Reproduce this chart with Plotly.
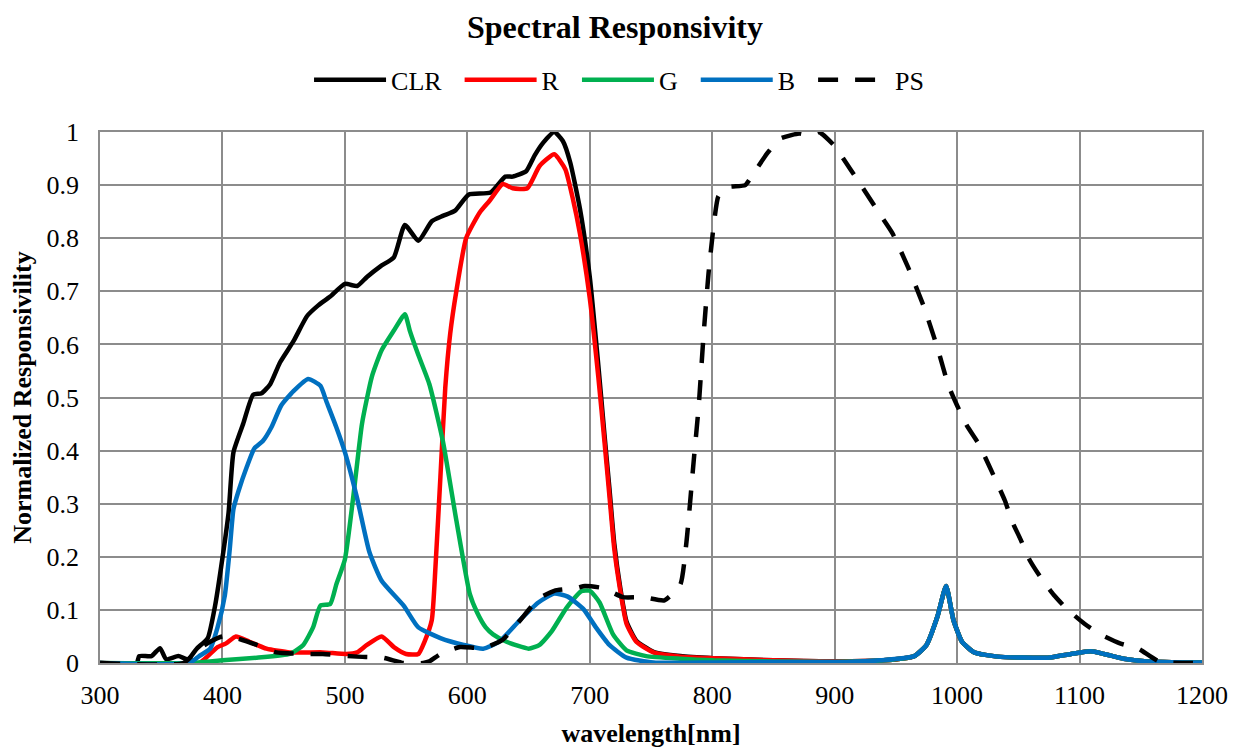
import plotly.graph_objects as go

# ---------------- data ----------------
clr_wl = [300, 330, 332, 342, 349, 354, 364, 372, 379, 388, 394, 399, 405, 409, 417, 425, 432, 439, 447, 458,
          469, 478, 488, 500, 510, 518, 529, 540, 549, 560, 571, 580, 590, 601, 619, 631, 637, 648, 655, 662,
          671, 678, 684, 692, 700, 707, 712, 716, 720, 725, 730, 738, 752, 774, 801, 850, 900, 940, 965, 975,
          984, 991, 997, 1004, 1014, 1033, 1074, 1093, 1109, 1120, 1136, 1155, 1200]
clr_val = [0, 0, 0.013, 0.013, 0.028, 0.007, 0.013, 0.007, 0.027, 0.047, 0.108, 0.182, 0.283, 0.397, 0.451, 0.505,
           0.508, 0.525, 0.566, 0.606, 0.653, 0.673, 0.69, 0.714, 0.71, 0.727, 0.747, 0.764, 0.825, 0.795, 0.832,
           0.842, 0.852, 0.882, 0.886, 0.916, 0.916, 0.926, 0.956, 0.98, 1.0, 0.983, 0.943, 0.855, 0.727, 0.56,
           0.43, 0.33, 0.225, 0.14, 0.078, 0.042, 0.021, 0.013, 0.009, 0.005, 0.003, 0.005, 0.013, 0.034, 0.088,
           0.145, 0.081, 0.04, 0.02, 0.012, 0.01, 0.017, 0.022, 0.017, 0.008, 0.003, 0.001]

r_wl = [300, 381, 388, 396, 403, 411, 422, 436, 455, 482, 501, 510, 518, 530, 540, 550, 560, 565, 571, 574, 578,
        582, 586, 591, 599, 610, 618, 629, 637, 649, 659, 671, 680, 686, 692, 700, 707, 712, 716, 720, 725, 730,
        738, 752, 774, 801, 850, 900, 940, 965, 975, 984, 991, 997, 1004, 1014, 1033, 1074, 1093, 1109, 1120,
        1136, 1155, 1200]
r_val = [0, 0, 0.013, 0.03, 0.037, 0.05, 0.04, 0.027, 0.02, 0.02, 0.017, 0.02, 0.034, 0.05, 0.03, 0.017, 0.017,
         0.04, 0.081, 0.182, 0.35, 0.519, 0.62, 0.7, 0.8, 0.848, 0.87, 0.902, 0.894, 0.894, 0.936, 0.958, 0.93,
         0.876, 0.808, 0.687, 0.538, 0.417, 0.316, 0.215, 0.135, 0.074, 0.04, 0.02, 0.012, 0.009, 0.005, 0.003,
         0.005, 0.013, 0.034, 0.088, 0.145, 0.081, 0.04, 0.02, 0.012, 0.01, 0.017, 0.022, 0.017, 0.008, 0.003,
         0.001]

g_wl = [300, 373, 400, 428, 455, 466, 474, 480, 488, 493, 500, 507, 514, 522, 530, 540, 549, 553, 560, 569, 580,
        591, 602, 608, 615, 621, 632, 650, 659, 669, 681, 693, 700, 708, 719, 730, 746, 774, 801, 850, 900, 940,
        965, 975, 984, 991, 997, 1004, 1014, 1033, 1074, 1093, 1109, 1120, 1136, 1155, 1200]
g_val = [0, 0, 0.005, 0.01, 0.017, 0.034, 0.067, 0.108, 0.111, 0.148, 0.195, 0.316, 0.451, 0.539, 0.589, 0.626,
         0.657, 0.626, 0.58, 0.525, 0.418, 0.269, 0.13, 0.095, 0.067, 0.054, 0.04, 0.027, 0.034, 0.06, 0.104,
         0.135, 0.136, 0.114, 0.054, 0.024, 0.013, 0.008, 0.005, 0.003, 0.002, 0.005, 0.013, 0.034, 0.088, 0.145,
         0.081, 0.04, 0.02, 0.012, 0.01, 0.017, 0.022, 0.017, 0.008, 0.003, 0.001]

b_wl = [300, 373, 381, 390, 396, 402, 406, 409, 413, 420, 426, 433, 440, 448, 458, 470, 480, 485, 493, 500, 510,
        520, 530, 548, 560, 578, 597, 613, 626, 643, 658, 671, 682, 695, 705, 716, 730, 752, 801, 856, 910, 937,
        965, 975, 984, 991, 997, 1004, 1014, 1033, 1074, 1093, 1109, 1120, 1136, 1155, 1200]
b_val = [0, 0, 0.013, 0.027, 0.067, 0.128, 0.215, 0.29, 0.323, 0.37, 0.404, 0.418, 0.444, 0.485, 0.512, 0.535,
         0.522, 0.492, 0.444, 0.397, 0.31, 0.209, 0.155, 0.108, 0.067, 0.047, 0.034, 0.027, 0.04, 0.081, 0.114,
         0.131, 0.125, 0.101, 0.067, 0.034, 0.01, 0.001, 0.001, 0.002, 0.002, 0.005, 0.013, 0.034, 0.088, 0.145,
         0.081, 0.04, 0.02, 0.012, 0.01, 0.017, 0.022, 0.017, 0.008, 0.003, 0.001]

ps_wl = [300, 368, 381, 390, 400, 411, 428, 444, 469, 482, 510, 531, 548, 564, 569, 578, 594, 613, 629, 643, 658,
         671, 689, 696, 711, 727, 744, 761, 774, 779, 785, 789, 793, 797, 801, 805, 812, 827, 834, 845, 855, 871,
         880, 887, 899, 907, 920, 937, 947, 960, 973, 984, 993, 1000, 1008, 1018, 1025, 1033, 1039, 1045, 1052,
         1059, 1068, 1079, 1090, 1104, 1117, 1133, 1148, 1165, 1200]
ps_val = [0, 0, 0.027, 0.04, 0.05, 0.047, 0.034, 0.02, 0.017, 0.017, 0.012, 0.01, 0.0, 0.0, 0.003, 0.017, 0.03,
          0.028, 0.044, 0.08, 0.121, 0.136, 0.141, 0.145, 0.141, 0.124, 0.124, 0.118, 0.148, 0.229, 0.384, 0.485,
          0.62, 0.734, 0.82, 0.879, 0.896, 0.9, 0.923, 0.96, 0.987, 0.997, 0.993, 1.0, 0.976, 0.95, 0.905,
          0.845, 0.81, 0.745, 0.67, 0.593, 0.522, 0.485, 0.447, 0.411, 0.377, 0.337, 0.306, 0.266, 0.232, 0.195,
          0.162, 0.128, 0.101, 0.074, 0.054, 0.037, 0.027, 0.003, 0]

x_ticks = [300, 400, 500, 600, 700, 800, 900, 1000, 1100, 1200]
y_ticks = [0, 0.1, 0.2, 0.3, 0.4, 0.5, 0.6, 0.7, 0.8, 0.9, 1]
y_tick_text = ["0", "0.1", "0.2", "0.3", "0.4", "0.5", "0.6", "0.7", "0.8", "0.9", "1"]

# ---------------- figure ----------------
FONT = "Liberation Serif, Times New Roman, serif"
PAD = "\u2002"  # en space: widens the gap between legend entries
series = [
    ("CLR", clr_wl, clr_val, "#000000", "solid", PAD),
    ("R", r_wl, r_val, "#FF0000", "solid", PAD),
    ("G", g_wl, g_val, "#00B050", "solid", PAD),
    ("B", b_wl, b_val, "#0070C0", "solid", PAD),
    ("PS", ps_wl, ps_val, "#000000", "20px,17px", ""),
]

fig = go.Figure()
for name, x, y, color, dash, pad in series:
    fig.add_trace(go.Scatter(
        x=x, y=y, name=name + pad, mode="lines",
        line=dict(color=color, width=4.5, dash=dash, shape="spline", smoothing=0.5),
    ))

grid = "#8C8C8C"
fig.update_layout(
    width=1240, height=754,
    paper_bgcolor="white", plot_bgcolor="white",
    margin=dict(l=92, r=46, t=124, b=99),
    font=dict(family=FONT, size=26, color="black"),
    title=dict(text="<b>Spectral Responsivity</b>", x=607 / 1240, xanchor="center",
               y=1 - 19 / 754, yanchor="middle", yref="container",
               font=dict(family=FONT, size=32, color="black")),
    legend=dict(orientation="h", x=0.471, xanchor="center", y=1.098, yanchor="middle",
                font=dict(family=FONT, size=26), itemwidth=72,
                bgcolor="rgba(0,0,0,0)"),
    showlegend=True,
)
fig.update_xaxes(
    range=[300, 1200], tickvals=x_ticks, ticktext=[str(v) for v in x_ticks],
    showgrid=True, gridcolor=grid, gridwidth=1.5,
    showline=True, linecolor=grid, linewidth=1.5, mirror=True,
    zeroline=False, ticks="", tickfont=dict(family=FONT, size=26), ticklabelstandoff=8,
    title=dict(text="<b>wavelength[nm]</b>", font=dict(family=FONT, size=26), standoff=15),
)
fig.update_yaxes(
    range=[0, 1], tickvals=y_ticks, ticktext=y_tick_text,
    showgrid=True, gridcolor=grid, gridwidth=1.5,
    showline=True, linecolor=grid, linewidth=1.5, mirror=True,
    zeroline=False, ticks="", tickfont=dict(family=FONT, size=26), ticklabelstandoff=14,
    title=dict(text="<b>Normalized Responsivility</b>", font=dict(family=FONT, size=26), standoff=8),
)

fig.write_html("out.html")
